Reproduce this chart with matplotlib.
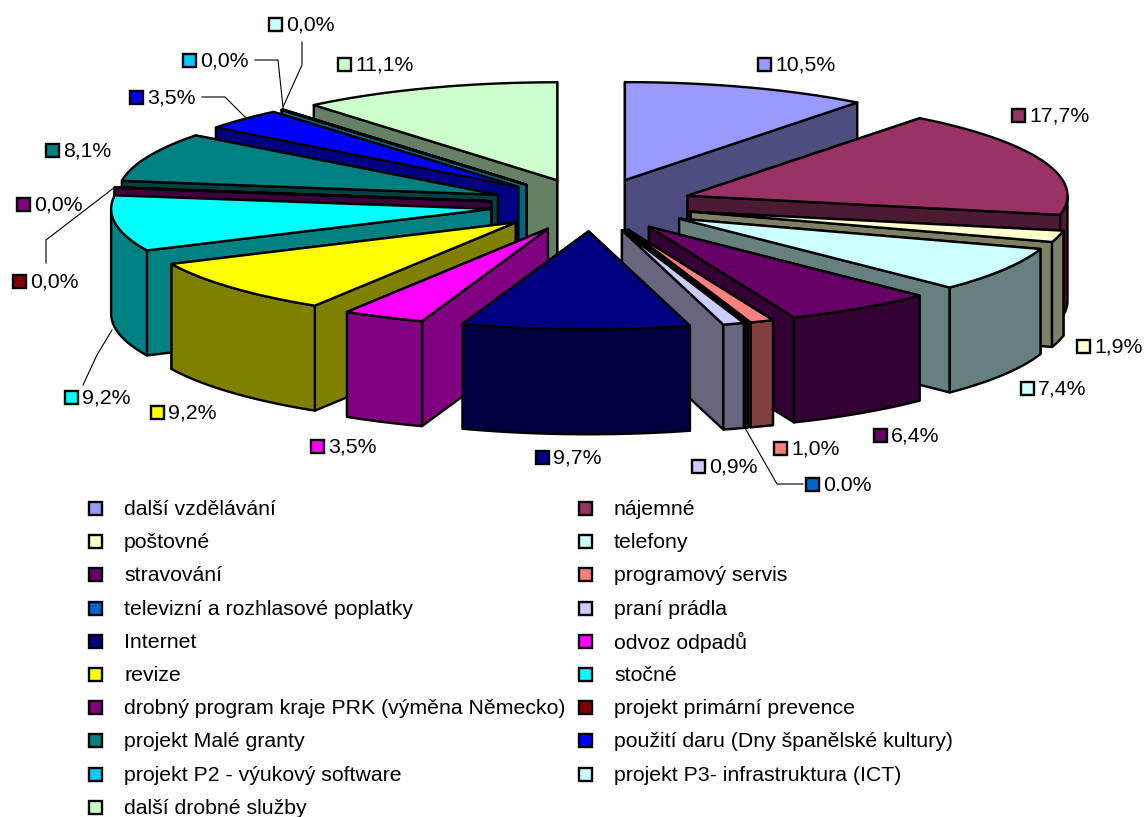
import numpy as np
import matplotlib
matplotlib.use('Agg')
import matplotlib.pyplot as plt
from matplotlib.patches import Polygon, Rectangle

plt.rcParams['font.family'] = ['Liberation Sans', 'DejaVu Sans']

# %% data
categories = [
    'další vzdělávání', 'nájemné', 'poštovné', 'telefony', 'stravování',
    'programový servis', 'televizní a rozhlasové poplatky', 'praní prádla',
    'Internet', 'odvoz odpadů', 'revize', 'stočné',
    'drobný program kraje PRK (výměna Německo)', 'projekt primární prevence',
    'projekt Malé granty', 'použití daru (Dny španělské kultury)',
    'projekt P2 - výukový software', 'projekt P3- infrastruktura (ICT)',
    'další drobné služby',
]
values = [10.5, 17.7, 1.9, 7.4, 6.4, 1.0, 0.04, 0.9, 9.7, 3.5, 9.2, 9.2,
          0.04, 0.04, 8.1, 3.5, 0.04, 0.04, 11.1]
value_labels = ['10,5%', '17,7%', '1,9%', '7,4%', '6,4%', '1,0%', '0.0%', '0,9%',
                '9,7%', '3,5%', '9,2%', '9,2%', '0,0%', '0,0%', '8,1%', '3,5%',
                '0,0%', '0,0%', '11,1%']
colors = ['#9999FF', '#993366', '#FFFFCC', '#CCFFFF', '#660066', '#FF8080',
          '#0066CC', '#CCCCFF', '#000080', '#FF00FF', '#FFFF00', '#00FFFF',
          '#800080', '#800000', '#008080', '#0000FF', '#00CCFF', '#CCFFFF',
          '#CCFFCC']

# %% layout in pixels
CX, CY = 592, 205
RX, RY = 380, 98
EXPLODE = 102
DEPTH = 105
FONT = 15.3
LW = 1.7
label_pos = [(757, 64), (1011, 115), (1076, 346), (1020, 388), (873, 435), (773, 448),
             (805, 484), (691, 466), (535, 457), (310, 446), (150, 412), (64, 397),
             (16, 204), (12, 281), (45, 150), (129, 97), (182, 60), (268, 24), (337, 64)]
leaders = {
    6: [(745, 428), (777, 484), (803, 484)],
    11: [(112, 330), (97, 355), (83, 385)],
    13: [(115, 187), (46, 240), (46, 263)],
    15: [(245, 117), (225, 97), (202, 97)],
    16: [(283, 107), (278, 60), (255, 60)],
    17: [(283, 107), (302, 65), (302, 42)],
}
legend_x = [88, 578]
legend_top = 508.5
legend_step = 33.2


def shade(color):
    r, g, b = matplotlib.colors.to_rgb(color)
    return (r / 2, g / 2, b / 2)


def arc(cx, cy, a0, a1):
    t = np.linspace(a0, a1, max(int((a1 - a0) * 60), 2))
    return np.column_stack([cx + RX * np.sin(t), cy - RY * np.cos(t)])


def draw_slice(ax, a0, a1, color):
    mid = (a0 + a1) / 2
    cx = CX + EXPLODE * np.sin(mid)
    cy = CY - EXPLODE * RY / RX * np.cos(mid)
    down = np.array([0, DEPTH])
    dark = shade(color)
    apex = np.array([cx, cy])
    top = arc(cx, cy, a0, a1)

    # radial walls, the one further back first
    ends = sorted([top[0], top[-1]], key=lambda p: p[1])
    for end in ends:
        wall = [apex, end, end + down, apex + down]
        ax.add_patch(Polygon(wall, fc=dark, ec='black', lw=LW, joinstyle='round'))

    # outer wall only where the rim faces the viewer
    lo, hi = max(a0, np.pi / 2), min(a1, 3 * np.pi / 2)
    if hi > lo:
        rim = arc(cx, cy, lo, hi)
        ax.add_patch(Polygon(np.vstack([rim, rim[::-1] + down]), fc=dark, ec='black',
                             lw=LW, joinstyle='round'))

    ax.add_patch(Polygon(np.vstack([apex, top]), fc=color, ec='black', lw=LW,
                         joinstyle='round'))


def key(ax, x, y, color):
    ax.add_patch(Rectangle((x - 6.5, y - 6.5), 13, 13, fc=color, ec='black', lw=LW))


def main():
    fig = plt.figure(figsize=(11.45, 8.17), dpi=100)
    ax = fig.add_axes([0, 0, 1, 1])
    ax.set_xlim(0, 1145)
    ax.set_ylim(817, 0)
    ax.axis('off')

    shares = np.array(values) / sum(values)
    edges = np.concatenate([[0], np.cumsum(shares)]) * 2 * np.pi
    mids = (edges[:-1] + edges[1:]) / 2

    # painter's order, back of the pie first
    for i in np.argsort(-np.cos(mids)):
        draw_slice(ax, edges[i], edges[i + 1], colors[i])

    for i, (x, y) in enumerate(label_pos):
        key(ax, x + 7, y, colors[i])
        ax.text(x + 18, y + 1, value_labels[i], fontsize=FONT, va='center', ha='left')

    for pts in leaders.values():
        xs, ys = zip(*pts)
        ax.plot(xs, ys, color='black', lw=0.8)

    for i, name in enumerate(categories):
        col = i % 2
        row = i // 2
        y = legend_top + row * legend_step
        key(ax, legend_x[col] + 7, y, colors[i])
        ax.text(legend_x[col] + 36, y + 1, name, fontsize=FONT, va='center', ha='left')

    fig.savefig('out.png', dpi=100)


if __name__ == '__main__':
    main()
